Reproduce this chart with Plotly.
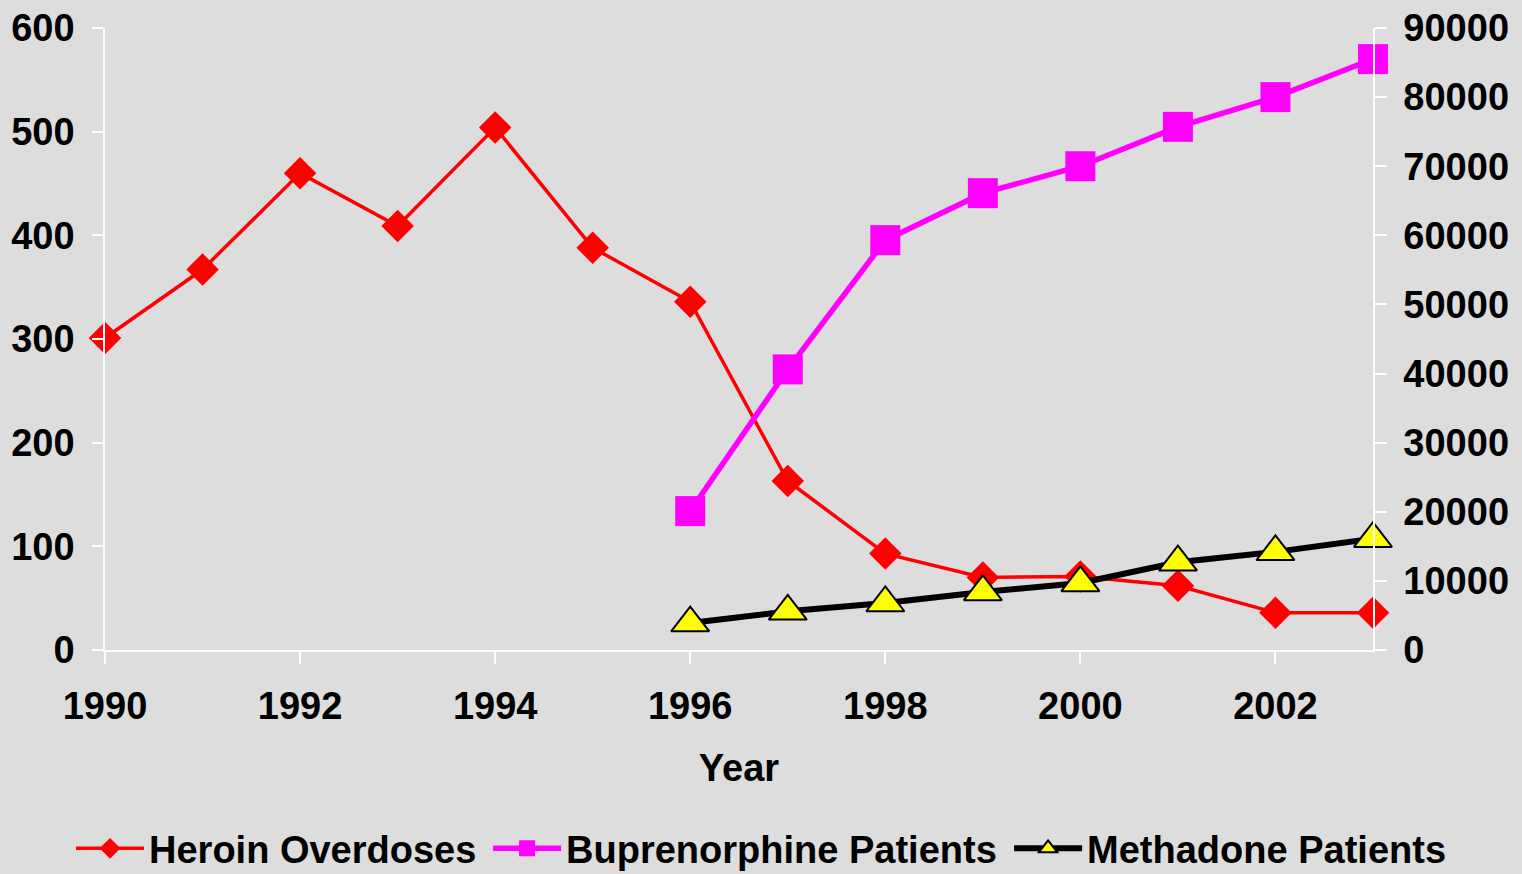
import plotly.graph_objects as go

years = list(range(1990, 2004))
heroin = [301, 367, 460, 409, 504, 388, 336, 163, 93, 70, 71, 62, 36, 36]
bup_years = list(range(1996, 2004))
buprenorphine = [20100, 40600, 59300, 66100, 70000, 75700, 80000, 85500]
methadone = [3900, 5600, 6800, 8400, 9700, 12700, 14200, 16100]

x_ticks = [1990, 1992, 1994, 1996, 1998, 2000, 2002]
y_left_ticks = [0, 100, 200, 300, 400, 500, 600]
y_right_ticks = [0, 10000, 20000, 30000, 40000, 50000, 60000, 70000, 80000, 90000]
y_right_text = [str(v) for v in y_right_ticks]

BG = "#DDDDDD"
FONT = dict(family="Liberation Sans, Arial, sans-serif", size=38, color="black", weight="bold")

fig = go.Figure()
fig.add_trace(go.Scatter(
    x=years, y=heroin, name="Heroin Overdoses", mode="lines+markers",
    line=dict(color="#FF0000", width=3.5),
    marker=dict(symbol="diamond", size=25, color="#FF0000"),
    cliponaxis=False, yaxis="y", legend="legend"))
fig.add_trace(go.Scatter(
    x=bup_years, y=buprenorphine, name="Buprenorphine Patients", mode="lines+markers",
    line=dict(color="#FF00FF", width=5.5),
    marker=dict(symbol="square", size=30, color="#FF00FF"),
    cliponaxis=False, yaxis="y2", legend="legend2"))
fig.add_trace(go.Scatter(
    x=bup_years, y=methadone, name="Methadone Patients", mode="lines+markers",
    line=dict(color="black", width=6),
    marker=dict(symbol="triangle-up", size=33, color="#FFFF00",
                line=dict(color="black", width=2)),
    cliponaxis=False, yaxis="y2", legend="legend3"))

leg_common = dict(orientation="h", xref="paper", yref="container", xanchor="left",
                  y=0.029, yanchor="middle", font=FONT,
                  bgcolor="rgba(0,0,0,0)", itemwidth=68, borderwidth=0)

axis_line = dict(showgrid=False, zeroline=False, showline=True, linecolor="white",
                 linewidth=1.5, tickcolor="white", tickwidth=1.5, tickfont=FONT,
                 automargin=False)

fig.update_layout(
    width=1522, height=874,
    paper_bgcolor=BG, plot_bgcolor=BG,
    margin=dict(l=105, r=149, t=28, b=224, autoexpand=False),
    font=FONT,
    showlegend=True,
    legend=dict(x=-0.0268, **leg_common),
    legend2=dict(x=0.3021, **leg_common),
    legend3=dict(x=0.7130, **leg_common),
    xaxis=dict(range=[1990, 2003], tickvals=x_ticks,
               ticks="outside", ticklen=12, ticklabelstandoff=10,
               title=dict(text="Year", font=FONT, standoff=28), **axis_line),
    yaxis=dict(range=[0, 600], tickvals=y_left_ticks,
               ticks="outside", ticklen=11, ticklabelstandoff=10, **axis_line),
    yaxis2=dict(range=[0, 90000], tickvals=y_right_ticks, ticktext=y_right_text,
                overlaying="y", side="right",
                ticks="outside", ticklen=12, ticklabelstandoff=9, **axis_line),
    yaxis3=dict(range=[0, 90000], tickvals=y_right_ticks, overlaying="y", side="right",
                anchor="x", showticklabels=False,
                ticks="inside", ticklen=12, showgrid=False, zeroline=False,
                showline=False, tickcolor="white", tickwidth=1.5),
)

fig.write_html(
    "out.html",
    config={"displayModeBar": False},
    post_script="document.body.style.margin='0';document.body.style.overflow='hidden';",
)
